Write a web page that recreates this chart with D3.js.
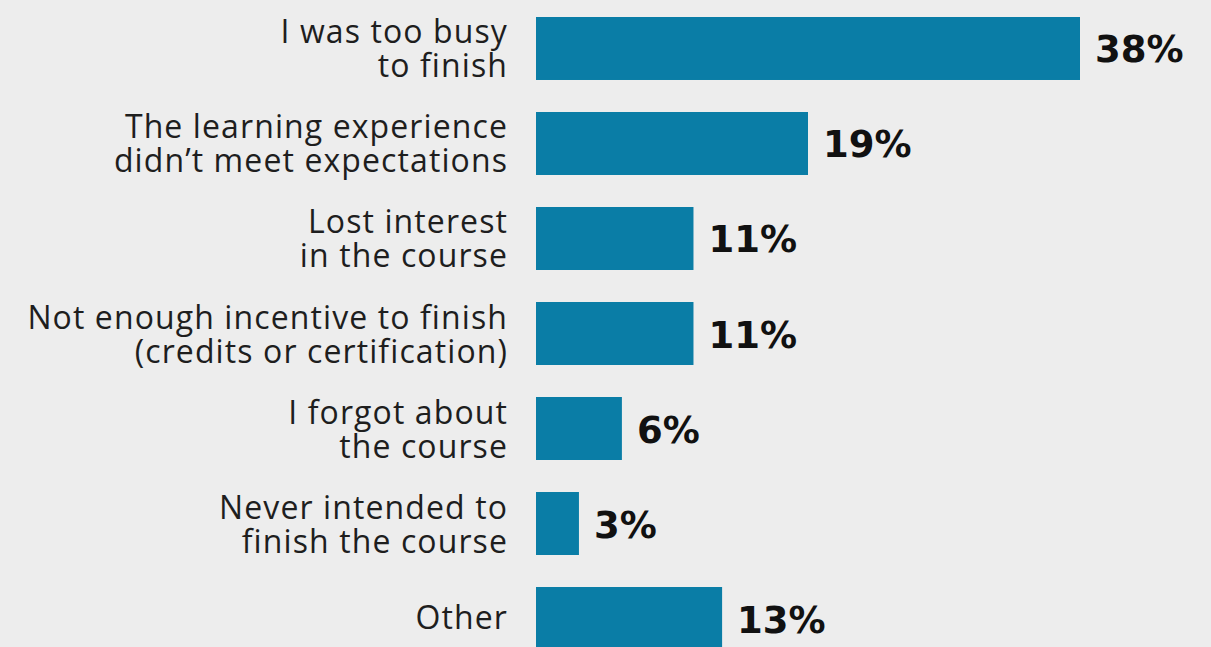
<!DOCTYPE html>
<html>
<head>
<meta charset="utf-8">
<script src="https://cdn.jsdelivr.net/npm/d3@7"></script>
<style>
  html, body { margin: 0; padding: 0; background: #ededed; }
  .label { font-family: "Open Sans", "Roboto", sans-serif; fill: #1e1e1e; }
  .value { font-family: "DejaVu Sans", "Lato", sans-serif; font-weight: 700; fill: #111; }
</style>
</head>
<body>
<div class="chart"></div>
<script>
// Data
var reasons = [
    "I was too busy|to finish",
    "The learning experience|didn\u2019t meet expectations",
    "Lost interest|in the course",
    "Not enough incentive to finish|(credits or certification)",
    "I forgot about|the course",
    "Never intended to|finish the course",
    "Other"
];
var shares = [38, 19, 11, 11, 6, 3, 13];
var valueLabels = ["38%", "19%", "11%", "11%", "6%", "3%", "13%"];

var svgWidth = 1211;
var svgHeight = 647;

var svg = d3.select(".chart")
    .append("svg")
    .attr("width", svgWidth)
    .attr("height", svgHeight)
    .style("display", "block");

svg.append("rect")
    .attr("width", svgWidth)
    .attr("height", svgHeight)
    .attr("fill", "#ededed");

// Scales
var xScale = d3.scaleLinear()
    .domain([0, 38])
    .range([536, 1080]);

var yScale = d3.scaleBand()
    .domain(d3.range(reasons.length))
    .range([17, 650])
    .paddingInner(0.337)
    .paddingOuter(0);

// Bars
svg.selectAll("rect.bar")
    .data(shares)
    .enter()
    .append("rect")
    .attr("class", "bar")
    .attr("x", xScale(0))
    .attr("y", (d, i) => yScale(i))
    .attr("width", d => xScale(d) - xScale(0))
    .attr("height", yScale.bandwidth())
    .attr("fill", "#0a7da6");

// Value labels
svg.selectAll("text.value")
    .data(shares)
    .enter()
    .append("text")
    .attr("class", "value")
    .attr("x", d => xScale(d) + 15)
    .attr("y", (d, i) => yScale(i) + yScale.bandwidth() / 2 + 14)
    .attr("font-size", "37px")
    .text((d, i) => valueLabels[i]);

// Category labels (right aligned, one or two lines)
var labels = svg.selectAll("text.label")
    .data(reasons)
    .enter()
    .append("text")
    .attr("class", "label")
    .attr("text-anchor", "end")
    .attr("font-size", "32px")
    .attr("letter-spacing", "1.1px")
    .attr("x", 508)
    .attr("y", function(d, i) {
        var mid = yScale(i) + yScale.bandwidth() / 2;
        return d.indexOf("|") < 0 ? mid + 10 : mid - 5;
    });

labels.each(function(d) {
    var el = d3.select(this);
    d.split("|").forEach(function(line, j) {
        el.append("tspan")
            .attr("x", 508)
            .attr("dy", j === 0 ? 0 : 34)
            .text(line);
    });
});
</script>
</body>
</html>
